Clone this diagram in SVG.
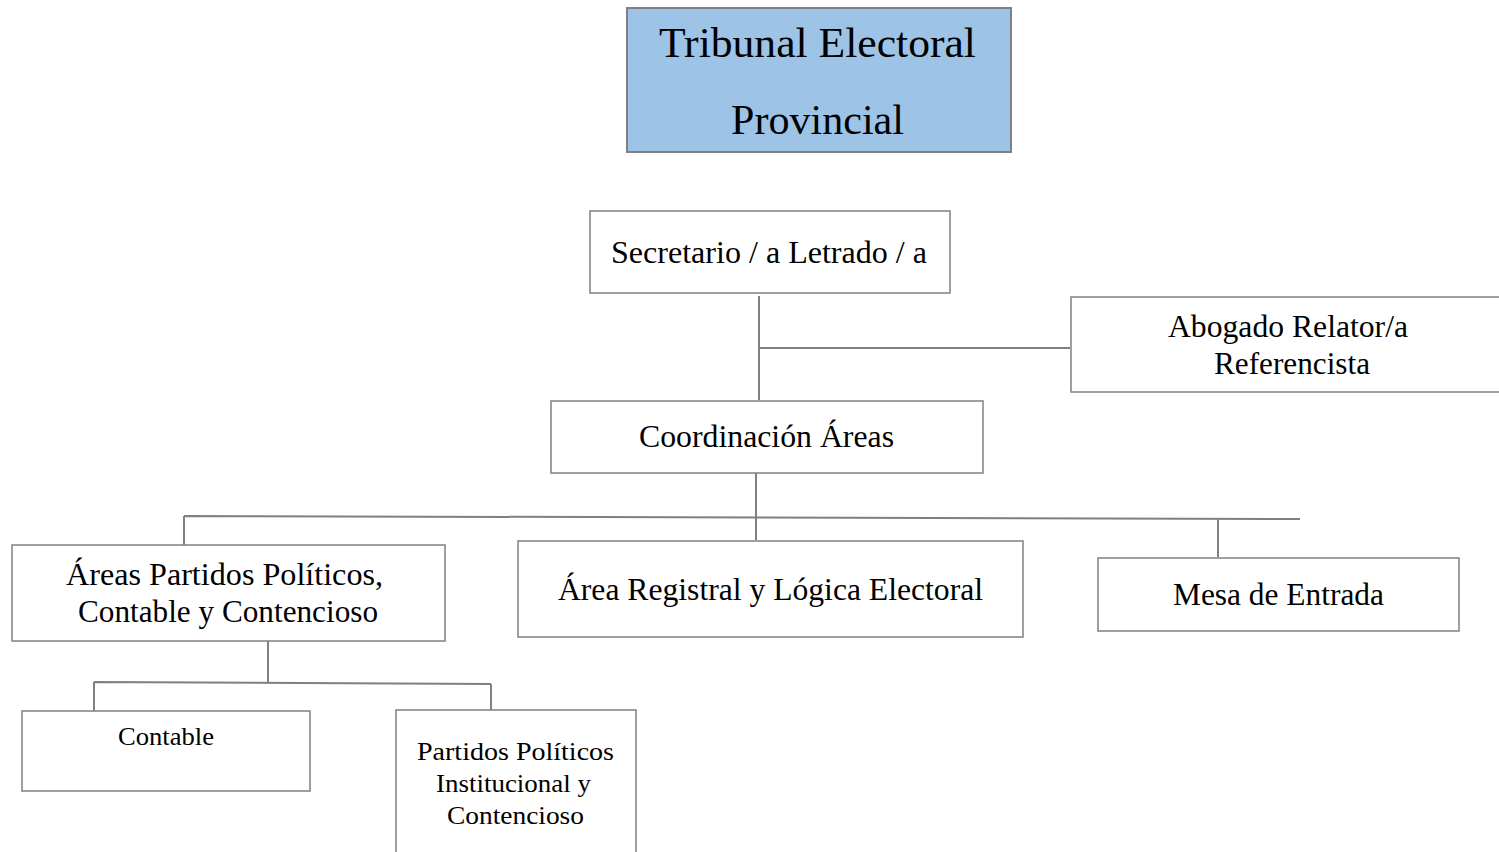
<svg xmlns="http://www.w3.org/2000/svg" width="1499" height="852" viewBox="0 0 1499 852">
<style>
.box{fill:#ffffff;stroke:#808080;stroke-width:1.5}
.top{fill:#9DC3E6;stroke:#808080;stroke-width:2}
.ln{stroke:#808080;stroke-width:2;fill:none}
text{font-family:"Liberation Serif","Times New Roman",serif;fill:#000;text-anchor:middle}
.t40{font-size:43px}
.t29{font-size:31px}
.t24{font-size:25px}
</style>
<rect width="1499" height="852" fill="#ffffff"/>
<g id="connectors">
<path class="ln" d="M759 296V400M759 348H1070"/>
<path class="ln" d="M756 473V540M184 516L1300 519M184 516V545M1218 520V557"/>
<path class="ln" d="M268 641V682M94 682L491 684M94 682V711M491 684V710"/>
</g>
<g id="tribunal">
<rect class="top" x="627" y="8" width="384" height="144"/>
<text class="t40" x="817.5" y="57" textLength="317" lengthAdjust="spacingAndGlyphs">Tribunal Electoral</text>
<text class="t40" x="817.5" y="134" textLength="173" lengthAdjust="spacingAndGlyphs">Provincial</text>
</g>
<g id="secretario">
<rect class="box" x="590" y="211" width="360" height="82"/>
<text class="t29" x="769" y="263" textLength="316" lengthAdjust="spacingAndGlyphs">Secretario / a Letrado / a</text>
</g>
<g id="abogado">
<rect class="box" x="1071" y="297" width="440" height="95"/>
<text class="t29" x="1288" y="337" textLength="240" lengthAdjust="spacingAndGlyphs">Abogado Relator/a</text>
<text class="t29" x="1292" y="374" textLength="156" lengthAdjust="spacingAndGlyphs">Referencista</text>
</g>
<g id="coordinacion">
<rect class="box" x="551" y="401" width="432" height="72"/>
<text class="t29" x="766.5" y="447" textLength="255" lengthAdjust="spacingAndGlyphs">Coordinación Áreas</text>
</g>
<g id="areas-partidos">
<rect class="box" x="12" y="545" width="433" height="96"/>
<text class="t29" x="224.5" y="585" textLength="317" lengthAdjust="spacingAndGlyphs">Áreas Partidos Políticos,</text>
<text class="t29" x="228" y="622" textLength="300" lengthAdjust="spacingAndGlyphs">Contable y Contencioso</text>
</g>
<g id="area-registral">
<rect class="box" x="518" y="541" width="505" height="96"/>
<text class="t29" x="770.5" y="600" textLength="425" lengthAdjust="spacingAndGlyphs">Área Registral y Lógica Electoral</text>
</g>
<g id="mesa">
<rect class="box" x="1098" y="558" width="361" height="73"/>
<text class="t29" x="1278.5" y="605" textLength="211" lengthAdjust="spacingAndGlyphs">Mesa de Entrada</text>
</g>
<g id="contable">
<rect class="box" x="22" y="711" width="288" height="80"/>
<text class="t24" x="166" y="745" textLength="96" lengthAdjust="spacingAndGlyphs">Contable</text>
</g>
<g id="partidos">
<rect class="box" x="396" y="710" width="240" height="160"/>
<text class="t24" x="515.5" y="760" textLength="197" lengthAdjust="spacingAndGlyphs">Partidos Políticos</text>
<text class="t24" x="513.5" y="792" textLength="155" lengthAdjust="spacingAndGlyphs">Institucional y</text>
<text class="t24" x="515.5" y="824" textLength="137" lengthAdjust="spacingAndGlyphs">Contencioso</text>
</g>
</svg>
